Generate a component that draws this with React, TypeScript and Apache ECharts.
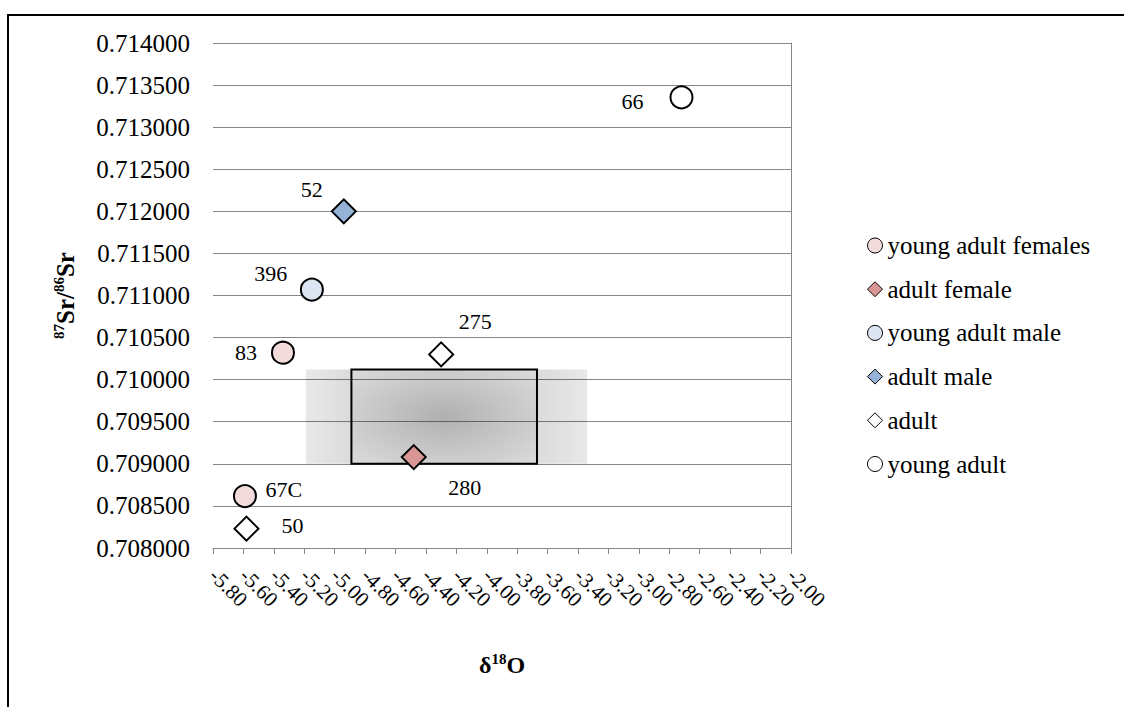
import React, { useEffect, useRef } from "react";
import * as echarts from "echarts";

const FONT = "Liberation Serif";

// x ticks / y ticks
const xMin = -5.8;
const xMax = -2.0;
const xStep = 0.2;
const yMin = 0.708;
const yMax = 0.714;
const yStep = 0.0005;

// series data (sample ids, δ18O, 87Sr/86Sr)
const youngAdultFemalesIds = ["83", "67C"];
const youngAdultFemalesX = [-5.34, -5.59];
const youngAdultFemalesY = [0.71032, 0.708617];

const adultFemaleIds = ["280"];
const adultFemaleX = [-4.48];
const adultFemaleY = [0.70908];

const youngAdultMaleIds = ["396"];
const youngAdultMaleX = [-5.15];
const youngAdultMaleY = [0.71107];

const adultMaleIds = ["52"];
const adultMaleX = [-4.94];
const adultMaleY = [0.712];

const adultIds = ["275", "50"];
const adultX = [-4.3, -5.58];
const adultY = [0.7103, 0.70823];

const youngAdultIds = ["66"];
const youngAdultX = [-2.72];
const youngAdultY = [0.713355];

// local range box
const boxX = [-4.89, -3.67];
const bandX = [-5.19, -3.34];
const boxY = [0.709, 0.71012];

// label placement (pixel offsets from the marker centre)
const labelOffsets: Record<string, [number, number]> = {
  "66": [-49, 4],
  "52": [-32, -22],
  "396": [-41, -16],
  "83": [-37, 0],
  "275": [34, -33],
  "280": [51, 30],
  "67C": [39, -7],
  "50": [46, -3],
};

function build(ids: string[], xs: number[], ys: number[]) {
  return ids.map((id, i) => ({
    name: id,
    value: [xs[i], ys[i]],
    label: { offset: labelOffsets[id] || [0, 0] },
  }));
}

export default function App() {
  const ref = useRef<HTMLDivElement>(null);
  useEffect(() => {
    if (!ref.current) return;
    const chart = echarts.init(ref.current, undefined, { renderer: "svg" });
    const labelCfg = {
      show: true,
      position: "inside" as const,
      formatter: (p: any) => p.name,
      color: "#000",
      fontFamily: FONT,
      fontSize: 22,
    };
    const mkScatter = (
      name: string,
      symbol: string,
      color: string,
      size: number,
      data: any[]
    ) => ({
      name,
      type: "scatter",
      symbol,
      symbolSize: size,
      z: 3,
      itemStyle: { color, borderColor: "#000", borderWidth: 2, opacity: 1 },
      label: labelCfg,
      data,
    });
    const option: any = {
      animation: false,
      backgroundColor: "#fff",
      textStyle: { fontFamily: FONT },
      graphic: [
        {
          type: "rect",
          silent: true,
          shape: { x: 8, y: 15, width: 1300, height: 900 },
          style: { fill: "none", stroke: "#000", lineWidth: 2 },
        },
      ],
      grid: { left: 213, right: 333, top: 43, bottom: 159 },
      legend: {
        orient: "vertical",
        left: 862,
        top: 228,
        itemGap: 18.7,
        itemWidth: 15,
        itemHeight: 15,
        itemStyle: { borderWidth: 1 },
        textStyle: { fontFamily: FONT, fontSize: 25, lineHeight: 25, color: "#000" },
        data: [
          "young adult females",
          "adult female",
          "young adult male",
          "adult male",
          "adult",
          "young adult",
        ],
      },
      xAxis: {
        type: "value",
        min: xMin,
        max: xMax,
        interval: xStep,
        name: "{b|δ}{sup|18}{b|O}",
        nameLocation: "middle",
        nameGap: 103,
        nameTextStyle: {
          rich: {
            b: { fontFamily: FONT, fontSize: 24, fontWeight: "bold", color: "#000", lineHeight: 28 },
            sup: { fontFamily: FONT, fontSize: 15, fontWeight: "bold", color: "#000", verticalAlign: "top", lineHeight: 15 },
          },
        },
        axisLine: { show: true, lineStyle: { color: "#868686", width: 1 } },
        axisTick: { show: true, length: 6, lineStyle: { color: "#868686" } },
        splitLine: { show: false },
        axisLabel: {
          rotate: -45,
          margin: 24,
          fontFamily: FONT,
          fontSize: 21,
          color: "#000",
          formatter: (v: number) => v.toFixed(2),
        },
      },
      yAxis: [
        {
          type: "value",
          min: yMin,
          max: yMax,
          interval: yStep,
          name: "{sup|87}{b|Sr/}{sup|86}{b|Sr}",
          nameLocation: "middle",
          nameGap: 134,
          nameRotate: 90,
          nameTextStyle: {
            rich: {
              b: { fontFamily: FONT, fontSize: 25, fontWeight: "bold", color: "#000", lineHeight: 28 },
              sup: { fontFamily: FONT, fontSize: 15, fontWeight: "bold", color: "#000", verticalAlign: "top", lineHeight: 15 },
            },
          },
          axisLine: { show: false },
          axisTick: { show: false },
          splitLine: { show: true, lineStyle: { color: "#868686", width: 1 } },
          axisLabel: {
            margin: 23,
            fontFamily: FONT,
            fontSize: 25,
            color: "#000",
            formatter: (v: number) => v.toFixed(6),
          },
        },
        {
          type: "value",
          position: "right",
          min: yMin,
          max: yMax,
          interval: yStep,
          axisLine: { show: true, lineStyle: { color: "#868686", width: 1 } },
          axisTick: { show: false },
          axisLabel: { show: false },
          splitLine: { show: false },
        },
      ],
      series: [
        {
          name: "range-fill",
          type: "scatter",
          data: [],
          silent: true,
          markArea: {
            silent: true,
            data: [
              [
                {
                  xAxis: bandX[0],
                  yAxis: boxY[0],
                  itemStyle: {
                    color: new echarts.graphic.LinearGradient(0, 0, 1, 0, [
                      { offset: 0, color: "rgba(0,0,0,0.09)" },
                      { offset: 1, color: "rgba(0,0,0,0.14)" },
                    ]),
                  },
                },
                { xAxis: boxX[0], yAxis: boxY[1] },
              ],
              [
                {
                  xAxis: boxX[1],
                  yAxis: boxY[0],
                  itemStyle: {
                    color: new echarts.graphic.LinearGradient(0, 0, 1, 0, [
                      { offset: 0, color: "rgba(0,0,0,0.14)" },
                      { offset: 1, color: "rgba(0,0,0,0.09)" },
                    ]),
                  },
                },
                { xAxis: bandX[1], yAxis: boxY[1] },
              ],
              [
                {
                  xAxis: boxX[0],
                  yAxis: boxY[0],
                  itemStyle: {
                    color: new echarts.graphic.RadialGradient(0.5, 0.5, 0.7, [
                      { offset: 0, color: "rgba(0,0,0,0.31)" },
                      { offset: 1, color: "rgba(0,0,0,0.14)" },
                    ]),
                  },
                },
                { xAxis: boxX[1], yAxis: boxY[1] },
              ],
            ],
          },
        },
        {
          name: "range-border",
          type: "scatter",
          data: [],
          silent: true,
          markArea: {
            silent: true,
            itemStyle: { color: "rgba(0,0,0,0)", borderColor: "#000", borderWidth: 2 },
            data: [[{ xAxis: boxX[0], yAxis: boxY[0] }, { xAxis: boxX[1], yAxis: boxY[1] }]],
          },
        },
        mkScatter("young adult females", "circle", "#f2dcdb", 22, build(youngAdultFemalesIds, youngAdultFemalesX, youngAdultFemalesY)),
        mkScatter("adult female", "diamond", "#d99694", 24, build(adultFemaleIds, adultFemaleX, adultFemaleY)),
        mkScatter("young adult male", "circle", "#dce6f2", 22, build(youngAdultMaleIds, youngAdultMaleX, youngAdultMaleY)),
        mkScatter("adult male", "diamond", "#95b3d7", 24, build(adultMaleIds, adultMaleX, adultMaleY)),
        mkScatter("adult", "diamond", "#ffffff", 24, build(adultIds, adultX, adultY)),
        mkScatter("young adult", "circle", "#ffffff", 22, build(youngAdultIds, youngAdultX, youngAdultY)),
      ],
    };
    chart.setOption(option);
    return () => chart.dispose();
  }, []);
  return (
    <div
      ref={ref}
      style={{ position: "absolute", left: 0, top: 0, width: 1124, height: 707 }}
    />
  );
}
